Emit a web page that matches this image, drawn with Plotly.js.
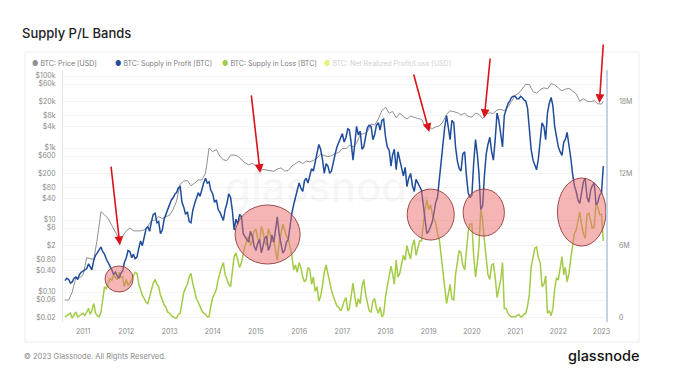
<!DOCTYPE html>
<html>
<head>
<meta charset="utf-8">
<script src="https://cdn.plot.ly/plotly-3.0.1.min.js"></script>
<style>html,body{margin:0;padding:0;background:#fff;}#chart{width:680px;height:381px;}</style>
</head>
<body>
<div id="chart"></div>
<script>
// ---- data ----
// Price: monthly (1st of month) Aug 2010 .. Jan 2023, plus a final mid-January point
const startYear = 2010, startMonth = 8, monthCount = 150;
const lastPriceDate = '2023-01-16';

const priceUSD = [
  0.06, 0.06, 0.1, 0.25, 0.25,
  0.3, 0.9, 0.85, 0.8, 3, 17, 14, 11, 7, 4.5, 3, 3.5,
  5, 6, 5, 5, 5, 5.3, 6.7, 9.5, 10, 12.4, 11, 12.5,
  13.5, 20, 33, 100, 120, 125, 90, 105, 130, 130, 200, 1000,
  800, 900, 600, 470, 450, 630, 640, 590, 480, 390, 340, 375,
  320, 230, 255, 245, 235, 225, 260, 280, 230, 237, 315, 375,
  430, 370, 435, 415, 450, 530, 670, 620, 575, 610, 700, 745,
  970, 970, 1190, 1080, 1350, 2400, 2500, 2870, 4700, 4340, 6450, 10900,
  13600, 9200, 10400, 6900, 9200, 7500, 6400, 7700, 7000, 6600, 6300, 4000,
  3800, 3450, 3850, 4100, 5300, 8600, 10800, 10100, 9600, 8300, 9200, 7550,
  7200, 9350, 8550, 6600, 8800, 9450, 9150, 11350, 11900, 10800, 13800, 19700,
  29000, 33500, 45200, 58800, 57700, 36700, 33500, 41500, 47100, 43800, 61300, 57000,
  46300, 38500, 43200, 45500, 38500, 31800, 19900, 23300, 20000, 19400, 20500, 17000,
  16600, 19800
];

// Supply (millions of BTC): two readings per month (1st, 16th), Aug 2010 .. Jan 2023
const supplyInProfitM = [
  3.1,3.3, 3.2,2.9, 3.0,3.3, 3.4,3.2, 3.6,3.8,
  3.9,4.0, 4.1,4.5, 4.3,4.0, 4.8,5.2, 5.4,5.7, 5.9,5.5, 5.3,4.9, 4.6,4.3, 4.0,3.6, 3.8,3.5, 3.3,3.7, 3.9,4.6,
  5.0,5.6, 5.5,5.0, 5.3,4.9, 5.1,5.8, 6.4,6.0, 6.9,7.4, 7.6,7.2, 8.0,8.6, 8.7,7.9, 8.0,7.0, 7.3,8.2, 8.6,9.0,
  9.5,9.8, 10.0,10.3, 10.4,10.8, 10.9,9.6, 9.2,8.6, 8.8,8.0, 7.9,8.9, 9.5,10.0, 10.4,10.1, 10.8,11.2, 11.6,11.2, 11.3,10.6,
  10.3,9.6, 9.8,9.0, 8.8,8.4, 8.1,9.0, 9.5,10.3, 10.0,8.9, 7.3,8.2, 7.8,8.6, 8.4,7.0, 6.7,6.5, 6.3,7.2, 6.8,6.0,
  5.6,6.2, 6.5,5.4, 5.9,6.6, 6.8,5.6, 6.0,6.9, 6.3,7.4, 8.4,7.0, 6.0,5.4, 5.6,6.3, 6.5,7.6, 8.7,9.4, 10.0,10.8,
  11.2,10.8, 10.5,11.4, 11.6,11.2, 11.8,12.4, 12.2,12.9, 13.5,14.4, 14.0,13.2, 12.0,12.8, 12.6,12.0, 12.2,13.0, 13.6,14.2, 14.6,15.0,
  15.3,14.6, 15.0,15.7, 15.6,14.6, 13.1,14.4, 15.9,15.2, 15.5,14.0, 14.2,15.0, 15.8,16.0, 15.9,14.8, 15.2,16.0, 16.2,15.6, 16.4,16.5,
  15.0,14.2, 13.9,12.6, 13.5,14.0, 12.3,13.8, 13.1,12.4, 11.8,12.5, 10.9,11.6, 12.0,11.0, 10.5,11.5, 11.2,10.8, 10.6,9.4, 8.0,7.0,
  7.2,7.6, 8.0,8.8, 9.6,10.0, 11.5,12.8, 14.5,15.8, 16.8,15.6, 14.8,16.4, 16.2,14.2, 13.0,12.4, 12.2,13.6, 13.8,11.8, 10.4,10.0,
  10.2,12.8, 14.8,13.6, 12.0,9.0, 9.3,11.8, 13.6,14.4, 15.0,13.8, 13.1,14.8, 17.0,16.4, 15.2,14.2, 16.8,17.3, 17.8,18.0, 18.3,18.4,
  18.4,18.2, 18.2,18.4, 18.3,18.1, 18.0,17.4, 15.9,14.0, 13.1,12.7, 12.3,13.2, 15.0,16.2, 15.9,14.8, 17.0,17.8, 18.3,17.6, 15.9,15.0,
  14.2,13.8, 13.5,14.6, 14.8,15.4, 14.5,13.3, 12.0,11.0, 10.5,9.8, 9.5,10.4, 11.3,11.6, 10.0,9.6, 10.6,11.0, 11.2,9.4, 9.6,10.2,
  10.4,12.6
];

const supplyInLossM = [
  0.1,0.2, 0.3,0.4, 0.0,0.3, 0.5,0.1, 0.2,0.3,
  0.4,0.2, 0.5,0.8, 0.3,0.6, 1.2,0.4, 0.2,0.1, 0.5,1.5, 2.6,2.4, 2.9,3.3, 3.1,3.6, 3.4,3.2, 3.8,3.4, 3.4,2.6,
  3.2,2.7, 2.9,3.3, 3.5,3.8, 3.7,2.8, 2.3,1.9, 1.6,1.3, 1.2,1.8, 2.3,2.9, 3.2,2.8, 2.6,1.9, 1.5,1.1, 0.9,0.5,
  0.4,0.2, 0.1,0.0, 0.0,0.3, 0.4,1.4, 2.1,2.5, 2.8,3.4, 3.7,2.9, 2.3,1.6, 1.3,0.9, 0.6,0.4, 0.3,0.1, 0.1,1.0,
  1.7,2.0, 2.4,3.2, 3.7,4.2, 4.6,3.6, 3.2,2.8, 2.6,3.9, 5.1,5.4, 4.8,4.2, 4.6,5.4, 6.0,6.4, 6.8,6.0, 6.4,7.2,
  7.4,6.6, 6.2,7.6, 7.2,6.4, 6.0,7.4, 7.0,6.3, 6.5,5.6, 4.8,6.2, 7.0,7.8, 7.3,6.8, 6.6,5.8, 5.2,4.0, 4.4,3.8,
  4.6,4.2, 3.4,3.0, 3.2,4.2, 4.0,2.8, 3.4,2.2, 2.6,1.4, 1.8,2.6, 3.8,4.4, 3.6,2.8, 2.3,1.8, 1.4,1.0, 0.9,0.6,
  0.9,1.4, 1.7,0.6, 0.8,2.0, 2.9,1.8, 0.9,1.6, 1.2,2.6, 3.2,2.0, 1.2,0.6, 0.5,1.4, 1.6,0.8, 0.4,0.9, 0.1,0.3,
  1.8,2.6, 3.2,4.3, 3.7,2.8, 4.8,3.4, 3.7,4.6, 5.2,4.8, 6.0,5.4, 4.9,6.0, 6.5,5.2, 5.8,6.4, 6.4,7.8, 9.0,9.8,
  9.0,9.4, 8.6,8.2, 7.9,7.0, 6.5,5.2, 3.8,2.2, 1.2,2.0, 2.8,1.6, 1.5,3.6, 4.6,5.6, 5.4,4.4, 4.0,6.0, 7.2,7.8,
  7.8,5.2, 3.4,4.6, 6.0,9.0, 8.1,6.4, 5.0,3.6, 3.2,4.4, 4.5,3.4, 1.7,2.4, 3.2,4.6, 0.8,0.8, 0.4,0.2, 0.1,0.1,
  0.1,0.2, 0.3,0.1, 0.1,0.3, 0.4,1.0, 2.0,4.2, 5.2,5.8, 5.9,5.0, 4.6,2.6, 2.8,3.5, 0.4,0.6, 0.2,0.8, 2.4,3.3,
  3.2,4.0, 5.1,3.6, 4.2,3.0, 3.7,4.9, 6.0,7.0, 7.3,8.2, 8.8,7.8, 7.0,6.6, 8.6,8.7, 8.0,7.4, 7.6,9.6, 9.2,8.6,
  8.6,6.4
];

const priceTickVals = [0.02, 0.06, 0.1, 0.4, 0.8, 2, 6, 10, 40, 80, 200, 600, 1000, 4000, 8000, 20000, 60000, 100000];
const priceTickText = ['$0.02','$0.06','$0.10','$0.40','$0.80','$2','$6','$10','$40','$80','$200','$600','$1k','$4k','$8k','$20k','$60k','$100k'];
const supplyTickVals = [0, 6e6, 12e6, 18e6];
const supplyTickText = ['0', '6M', '12M', '18M'];
const yearTicks = ['2011','2012','2013','2014','2015','2016','2017','2018','2019','2020','2021','2022','2023'];

const seriesNames = ['BTC: Price [USD]', 'BTC: Supply in Profit [BTC]', 'BTC: Supply in Loss [BTC]', 'BTC: Net Realized Profit/Loss [USD]'];

// ---- highlight overlays (dates / values) ----
const circles = [
  ['2011-07-05', '2012-02-28', 2.16e6, 4.32e6],
  ['2014-07-09', '2016-01-10', 4.48e6, 9.38e6],
  ['2018-07-03', '2019-08-05', 6.47e6, 10.7e6],
  ['2019-10-19', '2020-10-02', 6.8e6, 10.7e6],
  ['2021-12-24', '2023-02-08', 5.97e6, 11.62e6]
];
// arrow tip (date, price) and tail pixel offset
const arrows = [
  ['2011-11-08', 2.0, -9, -80],
  ['2015-02-06', 203, -9, -79],
  ['2019-01-06', 2780, -16, -59],
  ['2020-04-15', 6800, 6, -61],
  ['2022-12-14', 17800, 4, -60]
];

// ---- build ----
const priceDates = [], supplyDates = [];
for (let i = 0; i < monthCount; i++) {
  const mIdx = startMonth - 1 + i;
  const y = startYear + Math.floor(mIdx / 12);
  const mm = String((mIdx % 12) + 1).padStart(2, '0');
  priceDates.push(y + '-' + mm + '-01');
  supplyDates.push(y + '-' + mm + '-01', y + '-' + mm + '-16');
}
priceDates.push(lastPriceDate);

const tickFont = {family: 'Inter, Roboto, sans-serif', size: 7, color: '#8a8a8a'};

const traces = [
  {x: priceDates, y: priceUSD, type: 'scatter', mode: 'lines', name: seriesNames[0], yaxis: 'y',
   line: {color: '#8f8f8f', width: 1}},
  {x: supplyDates, y: supplyInLossM.map(v => v * 1e6), type: 'scatter', mode: 'lines', name: seriesNames[2], yaxis: 'y2',
   line: {color: '#a3cb45', width: 1.5}},
  {x: supplyDates, y: supplyInProfitM.map(v => v * 1e6), type: 'scatter', mode: 'lines', name: seriesNames[1], yaxis: 'y2',
   line: {color: '#1f4c9c', width: 1.5}}
];

// paper helpers from pixel positions (plot area 63..606 x 70..322)
const L = 63, R = 606, T = 70, B = 322;
const px = x => (x - L) / (R - L);
const py = y => (B - y) / (B - T);

const shapes = [
  {type: 'rect', xref: 'paper', yref: 'paper', x0: px(25), x1: px(639), y0: py(52), y1: py(342),
   line: {color: '#ededed', width: 1}, fillcolor: 'rgba(0,0,0,0)', layer: 'below'}
];
circles.forEach(c => shapes.push({
  type: 'circle', xref: 'x', yref: 'y2', x0: c[0], x1: c[1], y0: c[2], y1: c[3],
  fillcolor: 'rgba(238,108,108,0.5)', line: {color: 'rgba(140,50,50,0.85)', width: 1}, layer: 'above'
}));

const annotations = [];
// watermark
annotations.push({xref: 'paper', yref: 'paper', x: px(328), y: py(186), xanchor: 'center', yanchor: 'middle',
  text: 'glassnode', showarrow: false,
  font: {family: 'Inter, Roboto, sans-serif', size: 42, color: 'rgba(0,0,0,0.055)', weight: 500}});
// legend
const legendItems = [
  [30, '#8f8f8f', '#7a7a7a', seriesNames[0]],
  [113, '#1f4c9c', '#7a7a7a', seriesNames[1]],
  [220, '#a3cb45', '#7a7a7a', seriesNames[2]],
  [322, '#e8f07a', '#cfcfcf', seriesNames[3]]
];
legendItems.forEach(it => annotations.push({
  xref: 'paper', yref: 'paper', x: px(it[0]), y: py(63), xanchor: 'left', yanchor: 'middle', showarrow: false,
  text: '<span style="color:' + it[1] + '">●</span> ' + it[3],
  font: {family: 'Inter, Roboto, sans-serif', size: 7, color: it[2]}
}));
// arrows
arrows.forEach(a => annotations.push({
  xref: 'x', yref: 'y', x: a[0], y: Math.log10(a[1]), ax: a[2], ay: a[3], text: '', showarrow: true,
  arrowcolor: '#d9141b', arrowwidth: 1.6, arrowhead: 2, arrowsize: 1.1, standoff: 0
}));
// footer
annotations.push({xref: 'paper', yref: 'paper', x: px(22), y: py(356), xanchor: 'left', yanchor: 'middle', showarrow: false,
  text: '© 2023 Glassnode. All Rights Reserved.', font: {family: 'Inter, Roboto, sans-serif', size: 7.5, color: '#8a8a8a'}});
annotations.push({xref: 'paper', yref: 'paper', x: px(641), y: py(356), xanchor: 'right', yanchor: 'middle', showarrow: false,
  text: 'glassnode', font: {family: 'Inter, Roboto, sans-serif', size: 14.5, color: '#111', weight: 500}});

const layout = {
  width: 680, height: 381,
  margin: {l: L, r: 680 - R, t: T, b: 381 - B, pad: 0},
  paper_bgcolor: '#ffffff', plot_bgcolor: '#ffffff',
  showlegend: false,
  hovermode: false,
  title: {text: 'Supply P/L Bands', x: 22 / 680, xref: 'container', xanchor: 'left', y: 1 - 33 / 381, yref: 'container', yanchor: 'middle',
          font: {family: 'Inter, Roboto, sans-serif', size: 13, color: '#222', weight: 500}},
  xaxis: {type: 'date', range: ['2010-07-15', '2023-02-08'],
          tickvals: yearTicks.map(y => y + '-01-01'), ticktext: yearTicks,
          showgrid: false, zeroline: false, showline: false, ticks: '', tickfont: tickFont, ticklabelstandoff: 4},
  yaxis: {type: 'log', range: [-1.833, 5.167], tickvals: priceTickVals, ticktext: priceTickText,
          showgrid: true, gridcolor: '#f3f3f3', gridwidth: 1, zeroline: false,
          showline: true, linecolor: '#e4e4e4', ticks: '', tickfont: tickFont, ticklabelstandoff: 5},
  yaxis2: {overlaying: 'y', side: 'right', range: [-0.33e6, 20.58e6], tickvals: supplyTickVals, ticktext: supplyTickText,
           showgrid: false, zeroline: false, showline: true, linecolor: '#c3d3e3', linewidth: 1.5,
           ticks: '', tickfont: tickFont, ticklabelstandoff: 10},
  shapes: shapes,
  annotations: annotations
};

Plotly.newPlot('chart', traces, layout, {displayModeBar: false, staticPlot: true});
</script>
</body>
</html>
